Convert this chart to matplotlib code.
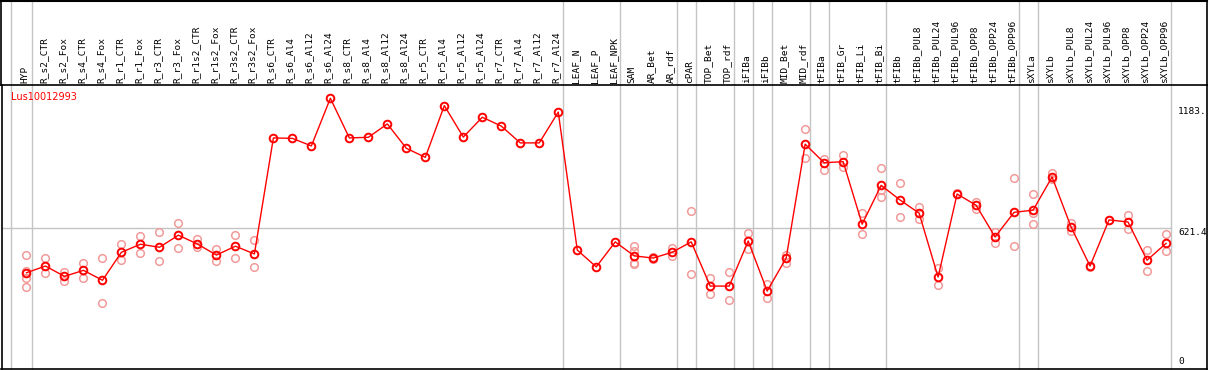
import numpy as np
import matplotlib.pyplot as plt
import matplotlib.transforms as mtransforms

# sample names along the top
labels = ['HYP', 'R_s2_CTR', 'R_s2_Fox', 'R_s4_CTR', 'R_s4_Fox', 'R_r1_CTR', 'R_r1_Fox',
          'R_r3_CTR', 'R_r3_Fox', 'R_r1s2_CTR', 'R_r1s2_Fox', 'R_r3s2_CTR', 'R_r3s2_Fox',
          'R_s6_CTR', 'R_s6_Al4', 'R_s6_Al12', 'R_s6_Al24', 'R_s8_CTR', 'R_s8_Al4',
          'R_s8_Al12', 'R_s8_Al24', 'R_r5_CTR', 'R_r5_Al4', 'R_r5_Al12', 'R_r5_Al24',
          'R_r7_CTR', 'R_r7_Al4', 'R_r7_Al12', 'R_r7_Al24', 'LEAF_N', 'LEAF_P', 'LEAF_NPK',
          'SAM', 'AR_Bet', 'AR_rdf', 'cPAR', 'TOP_Bet', 'TOP_rdf', 'iFIBa', 'iFIBb',
          'MID_Bet', 'MID_rdf', 'tFIBa', 'tFIB_Gr', 'tFIB_Li', 'tFIB_Bi', 'tFIBb',
          'tFIBb_PUL8', 'tFIBb_PUL24', 'tFIBb_PUL96', 'tFIBb_OPP8', 'tFIBb_OPP24',
          'tFIBb_OPP96', 'sXYLa', 'sXYLb', 'sXYLb_PUL8', 'sXYLb_PUL24', 'sXYLb_PUL96',
          'sXYLb_OPP8', 'sXYLb_OPP24', 'sXYLb_OPP96']

# mean expression per sample
means = [414, 445, 397, 425, 379, 509, 546, 532, 588, 547, 496, 537, 501,
         1039, 1037, 1002, 1223, 1039, 1042, 1104, 991, 949, 1189, 1043, 1135,
         1094, 1016, 1016, 1159, 519, 441, 557,
         492, 482, 509, 557, 352, 352, 561, 329, 482, 1010,
         924, 929, 639, 819, 751, 690, 394, 779, 727, 580, 694,
         704, 858, 626, 445, 659, 649, 472, 550]

# individual replicates (sample index, value)
rep_idx = [0, 0, 0, 0, 1, 1, 2, 2, 3, 3, 4, 4, 5, 5, 6, 6, 7, 7, 8, 8, 9, 9,
           10, 10, 11, 11, 12, 12,
           32, 32, 32, 32, 33, 33, 34, 34, 35, 35, 36, 36, 37, 37, 38, 38, 39, 39,
           40, 40, 41, 41, 42, 42, 43, 43, 44, 44, 45, 45, 45, 46, 46, 47, 47,
           48, 48, 49, 50, 50, 51, 51, 52, 52, 53, 53, 53, 54, 54, 55, 55, 56,
           57, 58, 58, 59, 59, 60, 60]
rep_val = [495, 422, 388, 346, 481, 411, 419, 377, 459, 391, 481, 272, 547, 472,
           583, 504, 603, 468, 643, 527, 569, 532, 525, 470, 588, 481, 564, 439,
           538, 515, 461, 455, 486, 476, 527, 492, 699, 408, 388, 315, 419, 286,
           597, 524, 363, 295, 498, 461, 1079, 947, 940, 890, 960, 903, 690, 592,
           898, 798, 767, 829, 671, 717, 662, 436, 356, 782, 743, 708, 604, 553,
           852, 538, 779, 690, 639, 875, 847, 643, 608, 442, 659, 682, 615, 519,
           422, 592, 515]

# group separators (after these sample indices)
sep_after = [0, 28, 31, 34, 35, 37, 38, 39, 41, 42, 45, 52, 53, 60]

x = np.arange(len(labels))

fig = plt.figure(figsize=(12.09, 3.70), dpi=100)
ax = fig.add_axes([1.5 / 1209, 1 / 370, 1205.5 / 1209, 284 / 370])

ax.set_xlim(-1.316, 62.158)
ax.set_ylim(-32.5, 1284.5)
ax.set_xticks([])
ax.set_yticks([])
for s in ax.spines.values():
    s.set_color('black')
    s.set_linewidth(1.2)

trans = mtransforms.blended_transform_factory(ax.transData, ax.transAxes)
top_frac = 369 / 284

# gray separators run through the label band too
for xs in [-0.842] + [i + 0.27 for i in sep_after]:
    ax.plot([xs, xs], [0, top_frac], color='#c4c4c4', lw=1, transform=trans,
            clip_on=False, zorder=1)

ax.plot([-1.316, 60.27], [621.4, 621.4], color='#c4c4c4', lw=1, zorder=1)

# outer frame above the plot
ax.plot([-1.316, -1.316], [1, top_frac], color='black', lw=1.2, transform=trans, clip_on=False)
ax.plot([62.158, 62.158], [1, top_frac], color='black', lw=1.2, transform=trans, clip_on=False)
ax.plot([-1.316, 62.158], [top_frac - 0.002, top_frac - 0.002], color='black', lw=1.5,
        transform=trans, clip_on=False)

for i, lab in enumerate(labels):
    ax.text(i - 0.1, 1 + 2 / 284, lab, rotation=90, ha='center', va='bottom',
            family='DejaVu Sans Mono', fontsize=6.8, transform=trans)

ax.plot(rep_idx, rep_val, 'o', ms=5.5, mfc='none', mec='#f29a9a', mew=1.1, zorder=2)
ax.plot(x, means, '-', color='red', lw=1, zorder=3)
ax.plot(x, means, 'o', ms=5.5, mfc='none', mec='red', mew=1.4, zorder=4)

ax.text(-0.842, 1252, 'Lus10012993', color='red', fontsize=7, ha='left', va='top')

for val, txt, va in [(1183, '1183.', 'top'), (621.4, '621.4', 'top'), (0, '0', 'center')]:
    ax.text(60.63, val, txt, family='DejaVu Sans Mono', fontsize=6.8, ha='left', va=va)

plt.savefig('out.png', dpi=100)
